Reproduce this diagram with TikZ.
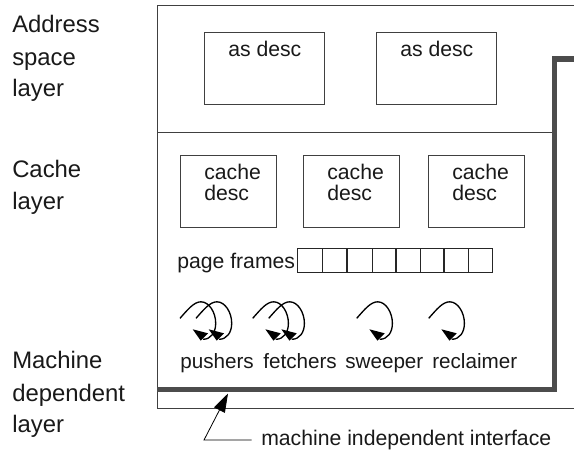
\documentclass[tikz,border=0pt]{standalone}
\usepackage{fontspec}
\setmainfont{Liberation Sans}
\usetikzlibrary{arrows.meta}
\tikzset{
  px/.style={x=0.75pt,y=-0.75pt},
  thin line/.style={draw=black!75,line width=0.75pt},
  desc/.style={thin line,fill=white},
  lab/.style={anchor=base west,inner sep=0pt,font=\fontsize{15.9pt}{18pt}\selectfont,text=black!90},
  sidelab/.style={anchor=base west,inner sep=0pt,font=\fontsize{17.9pt}{20pt}\selectfont,text=black!90},
  iface/.style={draw=black!70,line width=3.9pt,line join=miter},
  frame/.style={draw=black!85,line width=0.7pt},
  loop/.style={draw=black,line width=1pt},
  looptip/.style={fill=black,draw=none}
}
\newcommand{\spinner}[2]{%
  \begin{scope}[shift={(#1,#2)}]
    \draw[loop] (0,0) .. controls (8,-9) and (14,-16.5) .. (21,-16.5)
      .. controls (29,-16.5) and (35.7,-6) .. (35.7,5)
      .. controls (35.7,14) and (31,21) .. (23,21);
    \fill[looptip] (12.7,11) -- (28,15) -- (20.7,22.3) -- cycle;
  \end{scope}}
\begin{document}
\begin{tikzpicture}[px]
\useasboundingbox (0,0) rectangle (574,451);
\coordinate (ol) at (157,5);
\coordinate (ot) at (574,5);
\coordinate (bl) at (157,408);
\coordinate (br) at (574,408);
\draw[thin line] (ot) -- (ol) -- (bl) -- (br);
\coordinate (hl) at (157,132.5);
\coordinate (hr) at (555,132.5);
\draw[thin line] (hl) -- (hr);
\coordinate (i1) at (574,59);
\coordinate (i2) at (554.5,59);
\coordinate (i3) at (554.5,389.5);
\coordinate (i4) at (157,389.5);
\draw[iface] (i1) -- (i2) -- (i3) -- (i4);
% as desc boxes
\draw[desc] (204,32) rectangle (324.5,104);
\draw[desc] (376,32) rectangle (496,104);
\node[lab] (as1) at (228,56) {as desc};
\node[lab] (as2) at (400,56) {as desc};
% cache desc
\draw[desc] (180,155) rectangle (276,227);
\draw[desc] (303,155) rectangle (399,227);
\draw[desc] (428,155) rectangle (524,227);
\node[lab] (c1a) at (204,179) {cache};
\node[lab] (c1b) at (204,200) {desc};
\node[lab] (c2a) at (327,179) {cache};
\node[lab] (c2b) at (327,200) {desc};
\node[lab] (c3a) at (452,179) {cache};
\node[lab] (c3b) at (452,200) {desc};
% page frames
\node[lab] (pf) at (177,268) {page frames};
\foreach \a/\b in {297/322,322/346,347/372,372/395,396/420,420/443,444/468,468/492}
  \draw[frame] (\a,248) rectangle (\b,272.5);
% spinners
\spinner{180}{318.3}
\spinner{196}{318.3}
\spinner{252.7}{318.3}
\spinner{268.7}{318.3}
\spinner{356.7}{318.3}
\spinner{428.7}{318.3}
% bottom labels
\node[lab,font=\fontsize{15.5pt}{18pt}\selectfont] (push) at (180,368) {pushers};
\node[lab,font=\fontsize{15.5pt}{18pt}\selectfont] (fetch) at (263,368) {fetchers};
\node[lab,font=\fontsize{15.5pt}{18pt}\selectfont] (sweep) at (345,368) {sweeper};
\node[lab,font=\fontsize{15.5pt}{18pt}\selectfont] (recl) at (432,368) {reclaimer};
% left labels
\node[sidelab] (l1) at (12,32) {Address};
\node[sidelab] (l2) at (12,65) {space};
\node[sidelab] (l3) at (12,96.5) {layer};
\node[sidelab] (l4) at (12,177) {Cache};
\node[sidelab] (l5) at (12,209) {layer};
\node[sidelab] (l6) at (12,368) {Machine};
\node[sidelab] (l7) at (12,401) {dependent};
\node[sidelab] (l8) at (12,432.5) {layer};
% pointer
\node[lab] (mi) at (261,445) {machine independent interface};
\coordinate (pc) at (204,440);
\coordinate (pe) at (251.7,440);
\coordinate (pt) at (228,393.5);
\draw[draw=black,line width=0.6pt,-{Triangle[length=14pt,width=9pt]}] (pe) -- (pc) -- (pt);
\end{tikzpicture}
\end{document}
